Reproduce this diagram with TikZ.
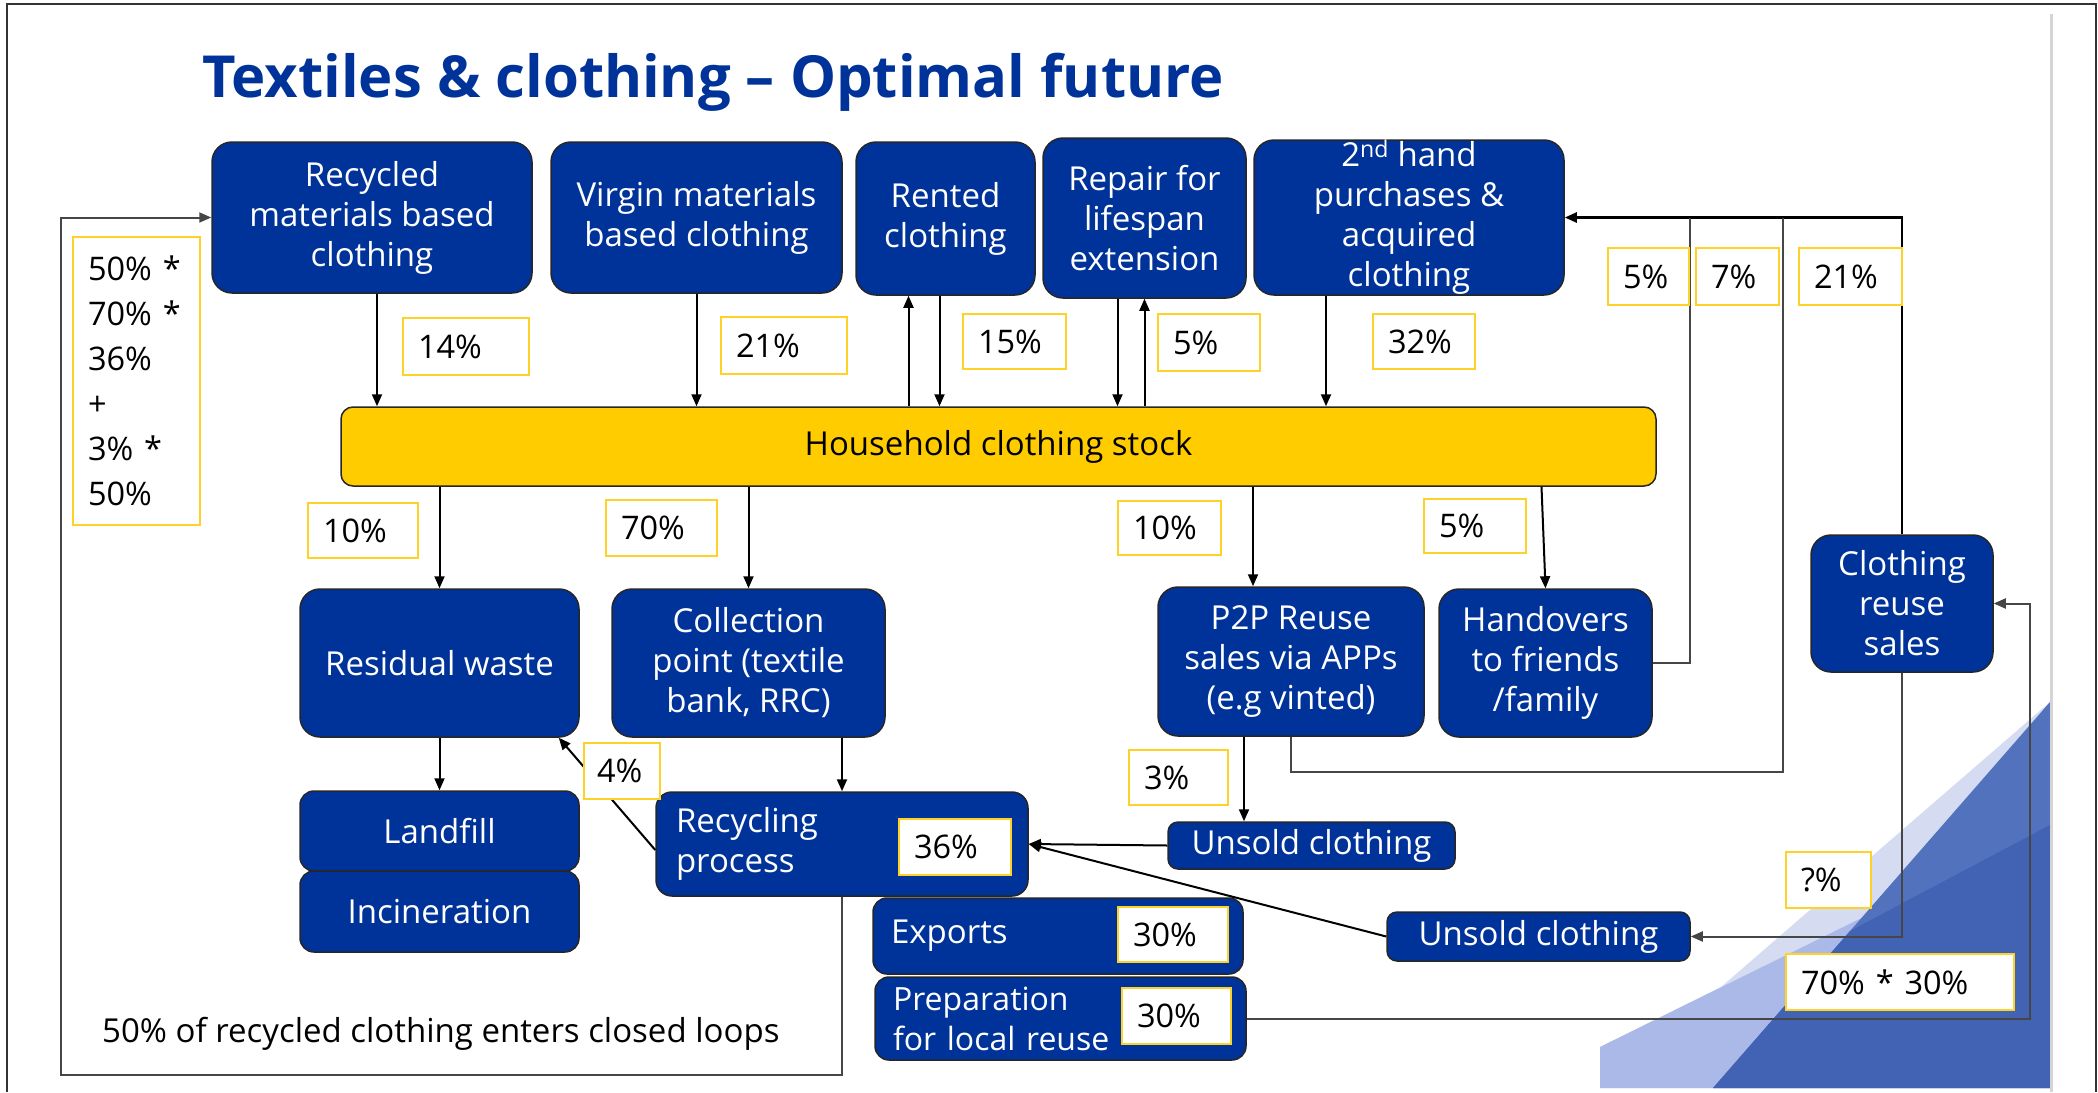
\documentclass[tikz,border=0pt]{standalone}
\usepackage{fontspec}
\setmainfont{Open Sans}
\usetikzlibrary{arrows.meta}
\definecolor{boxblue}{RGB}{0,51,153}
\definecolor{stockyellow}{RGB}{255,204,0}
\definecolor{pctyellow}{RGB}{255,210,40}
\definecolor{linegray}{RGB}{70,70,70}
\definecolor{facetA}{RGB}{213,220,242}
\definecolor{facetB}{RGB}{170,185,231}
\definecolor{facetC}{RGB}{82,114,190}
\definecolor{facetD}{RGB}{66,98,180}
\tikzstyle{every node}=[font=\fontsize{33}{40}\selectfont]
\tikzstyle{bluebox}=[draw=black!85,line width=1.5pt,fill=boxblue,text=white,rounded corners=20pt,align=center,inner xsep=4pt,inner ysep=0pt]
\tikzstyle{stockbox}=[draw=black!85,line width=1.5pt,fill=stockyellow,rounded corners=12pt]
\tikzstyle{pctbox}=[draw=pctyellow,line width=2pt,fill=white,anchor=north west,inner xsep=15pt,inner ysep=0pt,align=left,font=\fontsize{32.5}{40}\selectfont]
\tikzstyle{flowarrow}=[line width=2pt,-{Triangle[length=12pt,width=10pt]}]
\tikzstyle{backline}=[line width=2pt,draw=linegray]

\begin{document}
\begin{tikzpicture}[x=1pt,y=-1pt]
  \useasboundingbox (0,0) rectangle (2098,1092);
  % corner decoration
  \fill[facetA] (1600,1088) -- (1600,1047) -- (1721,987) -- (2050,702) -- (2050,1088) -- cycle;
  \fill[facetB] (1600,1088) -- (1600,1047) -- (2050,825) -- (2050,1088) -- cycle;
  \fill[facetC] (1713,1088) -- (2050,702) -- (2050,1088) -- cycle;
  \fill[facetD] (1713,1088) -- (1850,931) -- (2050,825) -- (2050,1088) -- cycle;
  % slide frame
  \draw[line width=2pt,black!80] (7,1092) -- (7,4) -- (2096,4) -- (2096,1092);
  \draw[line width=3pt,black!17] (2051,14) -- (2051,1092);

  % top row
  \node[bluebox,minimum width=320pt,minimum height=151pt] (recycled) at (372,217.5) {Recycled\\materials based\\clothing};
  \node[bluebox,minimum width=291pt,minimum height=151pt] (virgin) at (696.5,217.5) {Virgin materials\\based clothing};
  \node[bluebox,minimum width=179pt,minimum height=153pt] (rented) at (945.5,218.5) {Rented\\clothing};
  \node[bluebox,minimum width=203pt,minimum height=160pt] (repair) at (1144.5,218) {Repair for\\lifespan\\extension};
  \node[bluebox,minimum width=310pt,minimum height=155pt] (secondhand) at (1409,217.5) {2\textsuperscript{nd} hand\\purchases \&\\acquired\\clothing};

  \node[stockbox,minimum width=1315pt,minimum height=79pt] (stock) at (998.5,446.5) {Household clothing stock};

  % lower boxes
  \node[bluebox,minimum width=279pt,minimum height=148pt] (residual) at (439.5,663) {Residual waste};
  \node[bluebox,minimum width=273pt,minimum height=148pt] (collection) at (748.5,663) {Collection\\point (textile\\bank, RRC)};
  \node[bluebox,minimum width=266pt,minimum height=149pt] (p2p) at (1291,661.5) {P2P Reuse\\sales via APPs\\(e.g vinted)};
  \node[bluebox,minimum width=213pt,minimum height=148pt] (handover) at (1545.5,663) {Handovers\\to friends\\/family};
  \node[bluebox,minimum width=182pt,minimum height=137pt] (reusesales) at (1902,603.5) {Clothing\\reuse\\sales};
  \node[bluebox,rounded corners=14pt,minimum width=279pt,minimum height=80pt] (landfill) at (439.5,831) {Landfill};
  \node[bluebox,rounded corners=14pt,minimum width=279pt,minimum height=81pt] (incineration) at (439.5,911.5) {Incineration};
  \node[bluebox,rounded corners=16pt,align=left,inner xsep=20pt,text width=332pt,minimum height=104pt] (recproc) at (842,844) {Recycling\\process};
  \node[bluebox,rounded corners=14pt,align=left,inner xsep=18pt,text width=334pt,minimum height=76pt] (exports) at (1058,936) {Exports};
  \node[bluebox,rounded corners=14pt,align=left,inner xsep=18pt,text width=335pt,minimum height=83pt,font=\fontsize{32}{40}\selectfont] (prep) at (1060.5,1018.5) {Preparation\\for local reuse};
  \node[bluebox,rounded corners=10pt,minimum width=287pt,minimum height=47pt] (unsoldA) at (1311.5,845.5) {Unsold clothing};
  \node[bluebox,rounded corners=10pt,minimum width=303pt,minimum height=49pt] (unsoldB) at (1538.5,936.5) {Unsold clothing};

  % flows into and out of the stock
  \draw[flowarrow] ([xshift=5pt]recycled.south) -- ([xshift=5pt]recycled.south |- stock.north);
  \draw[flowarrow] (virgin.south) -- (virgin.south |- stock.north);
  \draw[flowarrow] ([xshift=-37pt]rented.south |- stock.north) -- ([xshift=-37pt]rented.south);
  \draw[flowarrow] ([xshift=-6pt]rented.south) -- ([xshift=-6pt]rented.south |- stock.north);
  \draw[flowarrow] ([xshift=-27pt]repair.south) -- ([xshift=-27pt]repair.south |- stock.north);
  \draw[flowarrow] (repair.south |- stock.north) -- (repair.south);
  \draw[flowarrow] ([xshift=-83pt]secondhand.south) -- ([xshift=-83pt]secondhand.south |- stock.north);
  \draw[flowarrow] (stock.south -| residual.north) -- (residual.north);
  \draw[flowarrow] (stock.south -| collection.north) -- (collection.north);
  \draw[flowarrow] ([xshift=-38pt]p2p.north |- stock.south) -- ([xshift=-38pt]p2p.north);
  \draw[flowarrow] ([xshift=-4pt]handover.north |- stock.south) -- (handover.north);
  \draw[flowarrow] (residual.south) -- (landfill.north);
  \draw[flowarrow] (collection.south -| recproc.north) -- (recproc.north);
  \draw[flowarrow] ([xshift=-47pt]p2p.south) -- ([xshift=-47pt]p2p.south |- unsoldA.north);
  \draw[flowarrow] ([yshift=-6pt]recproc.west) -- ([xshift=-21pt]residual.south east);
  \draw[flowarrow] (unsoldA.west) -- (recproc.east);
  \draw[flowarrow] (unsoldB.west) -- (recproc.east);

  % return lines
  \coordinate (handup) at (1690,0);
  \coordinate (p2pturn) at (1783,772);
  \coordinate (loopL) at (61,1075);
  \coordinate (loopR) at (2030,0);
  \draw[flowarrow,line width=2.5pt] (reusesales.north) |- (secondhand.east);
  \draw[backline] (handover.east) -| (handup |- secondhand.east);
  \draw[backline] (p2p.south) |- (p2pturn) -- (p2pturn |- secondhand.east);
  \draw[backline,flowarrow] (recproc.south) |- (loopL) |- (recycled.west);
  \draw[backline,flowarrow] (prep.east) -| (loopR |- reusesales.east) -- (reusesales.east);
  \draw[backline,flowarrow] (reusesales.south) |- (unsoldB.east);

  % shares
  \node[pctbox,text width=96pt,minimum height=57pt] (p14) at (402,317) {14\%};
  \node[pctbox,text width=96pt,minimum height=57pt] (p21a) at (720,316) {21\%};
  \node[pctbox,text width=73pt,minimum height=55pt] (p15) at (962,313) {15\%};
  \node[pctbox,text width=72pt,minimum height=57pt] (p5a) at (1157,313) {5\%};
  \node[pctbox,text width=72pt,minimum height=55pt] (p32) at (1372,313) {32\%};
  \node[pctbox,text width=51pt,minimum height=57pt] (p5b) at (1607,247) {5\%};
  \node[pctbox,text width=53pt,minimum height=57pt] (p7) at (1695,247) {7\%};
  \node[pctbox,text width=73pt,minimum height=57pt] (p21b) at (1798,247) {21\%};
  \node[pctbox,text width=97pt,minimum height=288pt,font=\fontsize{32.5}{45}\selectfont] (pmix) at (72,236) {50\% *\\70\% *\\36\%\\+\\3\% *\\50\%};
  \node[pctbox,text width=80pt,minimum height=55pt] (p10a) at (307,502) {10\%};
  \node[pctbox,text width=81pt,minimum height=56pt] (p70) at (605,499) {70\%};
  \node[pctbox,text width=73pt,minimum height=54pt] (p10b) at (1117,500) {10\%};
  \node[pctbox,text width=72pt,minimum height=54pt] (p5c) at (1423,498) {5\%};
  \node[pctbox,inner xsep=13pt,text width=50pt,minimum height=56pt] (p4) at (583,742) {4\%};
  \node[pctbox,text width=69pt,minimum height=55pt] (p3) at (1128,749) {3\%};
  \node[pctbox,text width=82pt,minimum height=56pt] (p36) at (898,818) {36\%};
  \node[pctbox,text width=80pt,minimum height=55pt] (p30a) at (1117,906) {30\%};
  \node[pctbox,text width=79pt,minimum height=56pt] (p30b) at (1121,987) {30\%};
  \node[pctbox,text width=55pt,minimum height=56pt] (pq) at (1785,851) {?\%};
  \node[pctbox,text width=198pt,minimum height=56pt] (p7030) at (1785,953) {70\% * 30\%};

  \node[anchor=base west,inner sep=0pt,font=\fontsize{33}{40}\selectfont] (note) at (102,1042) {50\% of recycled clothing enters closed loops};
  \node[anchor=base west,inner sep=0pt,text=boxblue,font=\fontsize{58}{70}\selectfont\bfseries] (title) at (202,97) {Textiles \& clothing -- Optimal future};
\end{tikzpicture}
\end{document}
